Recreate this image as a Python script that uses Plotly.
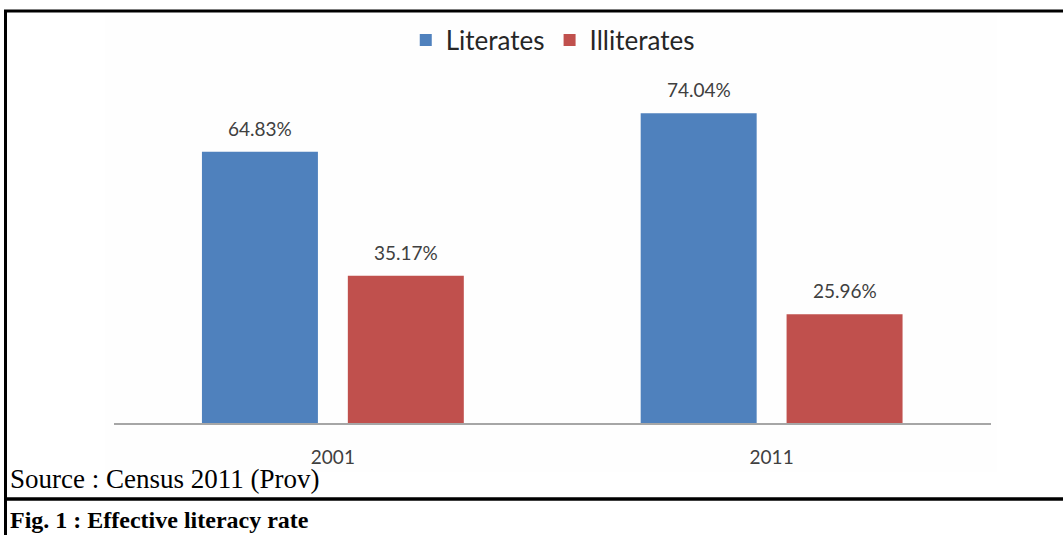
import plotly.graph_objects as go

# Census literacy figures
years = ["2001", "2011"]
literates = [64.83, 74.04]
illiterates = [35.17, 25.96]
series_names = ["Literates", "Illiterates"]
source_note = "Source : Census 2011 (Prov)"
caption = "Fig. 1 : Effective literacy rate"

W, H = 1063, 535
BLUE = "#4f81bd"
RED = "#c0504d"
LABEL = "#404040"


def px_x(v):
    return v / W


def px_y(v):
    return (H - v) / H


BARGAP = 0.335
BARGROUPGAP = 0.205

fig = go.Figure()
fig.add_trace(go.Bar(name=series_names[0], x=years, y=literates,
                     marker=dict(color=BLUE, line=dict(width=0))))
fig.add_trace(go.Bar(name=series_names[1], x=years, y=illiterates,
                     marker=dict(color=RED, line=dict(width=0))))

# value labels above each bar
half_slot = (1 - BARGAP) / 4
annotations = []
for i, (a, b) in enumerate(zip(literates, illiterates)):
    for off, v in ((-half_slot, a), (half_slot, b)):
        annotations.append(dict(
            x=i + off, y=v, xref="x", yref="y", text=f"{v:.2f}%",
            showarrow=False, yanchor="bottom", yshift=10,
            font=dict(family="Lato", size=19, color=LABEL)))

# source note and caption
annotations.append(dict(x=px_x(8), y=px_y(479), xref="paper", yref="paper",
                        text=source_note, showarrow=False, xanchor="left",
                        yanchor="middle",
                        font=dict(family="Liberation Serif", size=27, color="#000")))
annotations.append(dict(x=px_x(8), y=px_y(520), xref="paper", yref="paper",
                        text="<b>" + caption + "</b>", showarrow=False,
                        xanchor="left", yanchor="middle",
                        font=dict(family="Liberation Serif", size=24, color="#000")))

shapes = [
    # faint chart panel
    dict(type="rect", xref="paper", yref="paper", layer="below",
         x0=px_x(105), x1=px_x(997), y0=px_y(472), y1=px_y(15),
         fillcolor="#fefefe", line=dict(width=0)),
    # frame lines
    dict(type="line", xref="paper", yref="paper",
         x0=px_x(4), x1=1.0, y0=px_y(11), y1=px_y(11),
         line=dict(color="#000", width=3)),
    dict(type="line", xref="paper", yref="paper",
         x0=px_x(5.5), x1=px_x(5.5), y0=px_y(10), y1=0,
         line=dict(color="#000", width=3)),
    dict(type="line", xref="paper", yref="paper",
         x0=px_x(4), x1=1.0, y0=px_y(499), y1=px_y(499),
         line=dict(color="#000", width=3.5)),
]

fig.update_layout(
    width=W, height=H,
    margin=dict(l=0, r=0, t=0, b=0),
    paper_bgcolor="white", plot_bgcolor="rgba(0,0,0,0)",
    barmode="group", bargap=BARGAP, bargroupgap=BARGROUPGAP,
    showlegend=True,
    legend=dict(orientation="h", x=0.52, xanchor="center",
                y=px_y(40), yanchor="middle",
                font=dict(family="Lato", size=26, color="#262626"),
                bgcolor="rgba(0,0,0,0)", itemwidth=30, traceorder="normal"),
    xaxis=dict(domain=[px_x(113.5), px_x(991)], range=[-0.5, 1.5],
               showline=True, linecolor="#a6a6a6", linewidth=1.5,
               ticks="", showgrid=False, zeroline=False,
               tickfont=dict(family="Lato", size=19, color=LABEL),
               ticklabelstandoff=16),
    yaxis=dict(domain=[px_y(423), px_y(88.2)], range=[0, 80],
               visible=False, showgrid=False, zeroline=False),
    annotations=annotations, shapes=shapes,
)

fig.write_html("out.html")
